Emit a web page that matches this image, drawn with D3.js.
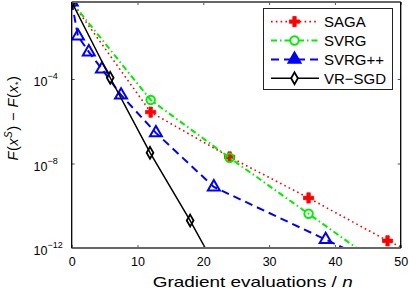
<!DOCTYPE html>
<html>
<head>
<meta charset="utf-8">
<script src="https://cdn.jsdelivr.net/npm/d3@7"></script>
<style>
body { margin: 0; background: #fff; }
svg { display: block; font-family: "Liberation Sans", Arial, sans-serif; }
</style>
</head>
<body>
<svg></svg>
<script>
// tick labels
let xTicks = [0, 10, 20, 30, 40, 50]
let yTicks = [1e-4, 1e-8, 1e-12]
let yTickExp = ['\u22124', '\u22128', '\u221212']

let names = ['SAGA', 'SVRG', 'SVRG++', 'VR\u2212SGD']

// values (x = gradient evaluations / n)
let sagaX = [0, 12, 24, 36, 48, 50]
let sagaY = [0.44, 2.69e-6, 2.04e-8, 2.34e-10, 2.19e-12, 1.15e-12]
let sagaMarks = [0, 1, 2, 3, 4]

let svrgX = [0, 12, 24, 36, 43.3]
let svrgY = [0.44, 1.02e-5, 1.86e-8, 4.17e-11, 1e-12]
let svrgMarks = [0, 1, 2, 3]

let svrgppX = [0, 0.95, 2.6, 4.6, 7.5, 12.8, 21.6, 38.6, 41.3]
let svrgppY = [0.44, 1.07e-2, 1.91e-3, 2.95e-4, 1.74e-5, 2.82e-7, 7.76e-10, 2.51e-12, 1e-12]
let svrgppMarks = [0, 1, 2, 3, 4, 5, 6, 7]

let vrsgdX = [0, 5.85, 11.9, 18.0, 20.3]
let vrsgdY = [0.44, 1.15e-4, 3.24e-8, 2.0e-11, 1e-12]
let vrsgdMarks = [0, 1, 2, 3]

let width = 409
let height = 288
let pLeft = 71.7, pRight = 400.7, pTop = 2, pBottom = 248

let svg = d3.select('svg').attr('width', width).attr('height', height)

let xScale = d3.scaleLinear().domain([0, 50]).range([pLeft, pRight])
let yScale = d3.scaleLog().domain([1e-12, Math.pow(10, -0.355)]).range([pBottom, pTop])

let styles = [
    { color: '#ff0000', dash: '1.6,3.2', lw: 1.6, symbol: d3.symbolCross, size: 58, fill: '#ff0000', legendFill: '#ff0000', sw: 0.8 },
    { color: '#00ee00', dash: '6,3,1.5,3', lw: 2, symbol: d3.symbolCircle, size: 55, fill: 'none', legendFill: '#fff', sw: 2 },
    { color: '#0000ff', dash: '8,5', lw: 2, symbol: d3.symbolTriangle, size: 62, fill: 'none', legendFill: '#0000ff', sw: 2 },
    { color: '#000000', dash: null, lw: 1.5, symbol: d3.symbolDiamond, size: 40, fill: 'none', legendFill: '#fff', sw: 1.8 }
]

let series = [
    { x: sagaX, y: sagaY, marks: sagaMarks },
    { x: svrgX, y: svrgY, marks: svrgMarks },
    { x: svrgppX, y: svrgppY, marks: svrgppMarks },
    { x: vrsgdX, y: vrsgdY, marks: vrsgdMarks }
]

let drawAxes = () => {
    let bottomAxis = d3.axisBottom(xScale).tickValues(xTicks).tickSizeInner(-3).tickSizeOuter(0).tickPadding(9.5)
    let topAxis = d3.axisTop(xScale).tickValues(xTicks).tickSizeInner(-3).tickSizeOuter(0).tickFormat('')
    let leftAxis = d3.axisLeft(yScale).tickValues(yTicks).tickSizeInner(-3).tickSizeOuter(0).tickFormat('')
    let rightAxis = d3.axisRight(yScale).tickValues(yTicks).tickSizeInner(-3).tickSizeOuter(0).tickFormat('')

    let gb = svg.append('g').attr('transform', 'translate(0,' + pBottom + ')').call(bottomAxis)
    gb.selectAll('text').style('font-size', '12.5px').attr('fill', '#000')
    svg.append('g').attr('transform', 'translate(0,' + pTop + ')').call(topAxis)

    let gl = svg.append('g').attr('transform', 'translate(' + pLeft + ',0)').call(leftAxis)
    svg.append('g').attr('transform', 'translate(' + pRight + ',0)').call(rightAxis)

    svg.selectAll('.tick line').attr('stroke', '#555')
    svg.selectAll('.domain').remove()

    // tick labels with exponent, left aligned like the original
    gl.selectAll('.tick').each(function (d, i) {
        let t = d3.select(this).append('text')
            .attr('x', 33.5 - pLeft)
            .attr('y', 6.6)
            .attr('text-anchor', 'start')
            .attr('fill', '#000')
            .style('font-size', '12.5px')
        t.append('tspan').text('10')
        t.append('tspan').attr('dy', -7).style('font-size', '9px').text(yTickExp[i])
    })
}

let drawLines = () => {
    svg.append('clipPath').attr('id', 'plotclip')
        .append('rect').attr('x', pLeft).attr('y', pTop).attr('width', pRight - pLeft).attr('height', pBottom - pTop)

    let line = d3.line()
        .x(d => xScale(d[0]))
        .y(d => yScale(d[1]))

    let g = svg.append('g').attr('clip-path', 'url(#plotclip)')

    series.forEach((s, i) => {
        let st = styles[i]
        let pts = s.x.map((v, j) => [v, s.y[j]])
        g.append('path')
            .attr('d', line(pts))
            .attr('fill', 'none')
            .attr('stroke', st.color)
            .attr('stroke-width', st.lw)
            .attr('stroke-dasharray', st.dash)
        g.selectAll('path.m' + i)
            .data(s.marks.map(j => pts[j]))
            .enter()
            .append('path')
            .attr('class', 'm' + i)
            .attr('transform', d => 'translate(' + xScale(d[0]) + ',' + yScale(d[1]) + ')')
            .attr('d', d3.symbol().type(st.symbol).size(st.size))
            .attr('fill', st.fill)
            .attr('stroke', st.color)
            .attr('stroke-width', st.sw)
    })
}

let drawFrame = () => {
    svg.append('line').attr('x1', pLeft).attr('x2', pRight).attr('y1', pTop).attr('y2', pTop)
        .attr('stroke', '#666').attr('stroke-width', 2)
    svg.append('line').attr('x1', pLeft).attr('x2', pRight).attr('y1', pBottom).attr('y2', pBottom)
        .attr('stroke', '#666').attr('stroke-width', 2)
    svg.append('line').attr('x1', pLeft).attr('x2', pLeft).attr('y1', pTop).attr('y2', pBottom)
        .attr('stroke', '#000').attr('stroke-width', 1.3)
    svg.append('line').attr('x1', pRight).attr('x2', pRight).attr('y1', pTop).attr('y2', pBottom)
        .attr('stroke', '#000').attr('stroke-width', 1.3)
}

let drawLegend = () => {
    let lg = svg.append('g')
    lg.append('rect')
        .attr('x', 263.5).attr('y', 8.5).attr('width', 129).attr('height', 81)
        .attr('fill', '#fff').attr('stroke', '#222').attr('stroke-width', 1)

    names.forEach((n, i) => {
        let st = styles[i]
        let yy = 21.6 + i * 18.9
        lg.append('line')
            .attr('x1', 271).attr('x2', 319).attr('y1', yy).attr('y2', yy)
            .attr('stroke', st.color).attr('stroke-width', st.lw)
            .attr('stroke-dasharray', st.dash)
        lg.append('path')
            .attr('transform', 'translate(294.5,' + yy + ')')
            .attr('d', d3.symbol().type(st.symbol).size(st.size))
            .attr('fill', st.legendFill)
            .attr('stroke', st.color)
            .attr('stroke-width', st.sw)
        lg.append('text')
            .attr('x', 324).attr('y', yy + 5.3)
            .style('font-size', '15px')
            .text(n)
    })
}

let drawTitles = () => {
    let xl = svg.append('text')
        .attr('x', 252.7).attr('y', 286.5)
        .attr('text-anchor', 'middle')
        .attr('textLength', 200)
        .attr('lengthAdjust', 'spacingAndGlyphs')
        .style('font-size', '14.5px')
    xl.append('tspan').text('Gradient evaluations / ')
    xl.append('tspan').style('font-style', 'italic').text('n')

    let yl = svg.append('text')
        .attr('transform', 'translate(18,118) rotate(-90)')
        .attr('text-anchor', 'middle')
        .style('font-size', '14.5px')
        .style('letter-spacing', '0.5px')
    yl.append('tspan').style('font-style', 'italic').text('F')
    yl.append('tspan').text('(')
    yl.append('tspan').style('font-style', 'italic').text('x')
    yl.append('tspan').attr('dy', -6).style('font-size', '10px').style('font-style', 'italic').text('S')
    yl.append('tspan').attr('dy', 6).text(') \u2212 ')
    yl.append('tspan').style('font-style', 'italic').text('F')
    yl.append('tspan').text('(')
    yl.append('tspan').style('font-style', 'italic').text('x')
    yl.append('tspan').attr('dy', 3).style('font-size', '9px').text('*')
    yl.append('tspan').attr('dy', -3).text(')')
}

drawLines()
drawAxes()
drawFrame()
drawLegend()
drawTitles()
</script>
</body>
</html>
